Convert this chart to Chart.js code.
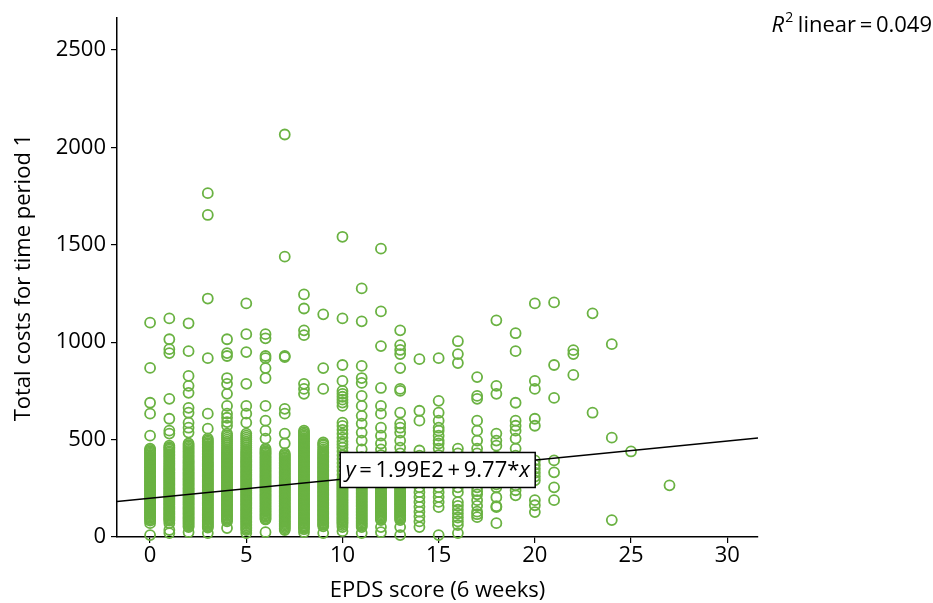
<!DOCTYPE html>
<html>
<head>
<meta charset="utf-8">
<script src="https://cdn.jsdelivr.net/npm/chart.js@4.4.1/dist/chart.umd.min.js"></script>
<style>
  html, body { margin: 0; padding: 0; background: #fff; }
  #wrap { width: 933px; height: 603px; position: relative; }
</style>
</head>
<body>
<div id="wrap"><canvas id="scatterChart"></canvas></div>
<script>
// EPDS score values that have observations
const epdsScores = [0, 1, 2, 3, 4, 5, 6, 7, 8, 9, 10, 11, 12, 13, 14, 15, 16, 17, 18, 19, 20, 21, 22, 23, 24, 25, 27];

// total costs (time period 1) read per EPDS score column
const costsAt0 = [1100, 868, 689, 633, 520, 454, 447, 441, 434, 428, 421, 414, 408, 401, 395, 388, 381, 375, 368, 362, 355, 348, 342, 335, 329, 322, 315, 309, 302, 296, 289, 282, 276, 269, 263, 256, 249, 243, 236, 230, 223, 216, 210, 203, 197, 190, 183, 177, 170, 164, 157, 150, 144, 137, 131, 124, 117, 111, 104, 98, 91, 84, 71, 10];
const costsAt1 = [1122, 1015, 964, 944, 709, 607, 546, 531, 469, 461, 455, 448, 440, 433, 425, 418, 410, 403, 395, 388, 380, 373, 366, 359, 352, 346, 340, 333, 327, 321, 315, 308, 302, 296, 290, 283, 277, 271, 265, 258, 252, 246, 240, 233, 227, 221, 215, 208, 202, 196, 190, 183, 177, 171, 165, 158, 152, 146, 140, 133, 127, 121, 115, 108, 102, 96, 90, 84, 71, 36, 20];
const costsAt2 = [1097, 954, 827, 776, 740, 663, 638, 587, 561, 536, 480, 472, 465, 457, 450, 442, 435, 427, 420, 412, 405, 397, 390, 384, 378, 371, 365, 358, 352, 346, 340, 333, 327, 321, 315, 308, 302, 296, 290, 283, 277, 271, 265, 258, 252, 246, 240, 233, 227, 221, 215, 208, 202, 196, 190, 183, 177, 171, 165, 158, 152, 146, 140, 133, 127, 121, 115, 108, 102, 96, 90, 83, 77, 70, 64, 57, 51, 25];
const costsAt3 = [1765, 1653, 1224, 918, 633, 556, 505, 497, 490, 482, 475, 467, 460, 452, 445, 437, 430, 422, 415, 407, 400, 392, 385, 378, 372, 366, 360, 353, 347, 341, 335, 328, 322, 316, 310, 303, 297, 291, 285, 278, 272, 266, 260, 253, 247, 241, 235, 228, 222, 216, 210, 203, 197, 191, 185, 178, 172, 166, 160, 153, 147, 141, 135, 128, 122, 116, 110, 103, 97, 91, 85, 78, 72, 66, 60, 54, 48, 20];
const costsAt4 = [1015, 944, 929, 816, 786, 735, 673, 633, 612, 590, 571, 531, 520, 510, 500, 490, 480, 470, 460, 450, 442, 434, 427, 420, 413, 406, 400, 393, 387, 380, 373, 367, 360, 354, 347, 341, 334, 328, 321, 315, 308, 302, 295, 289, 282, 276, 269, 263, 256, 250, 243, 237, 230, 224, 217, 211, 204, 198, 191, 185, 178, 172, 165, 159, 152, 146, 139, 133, 126, 120, 113, 107, 100, 94, 87, 80, 46];
const costsAt5 = [1199, 1041, 949, 786, 673, 633, 587, 531, 520, 510, 500, 490, 480, 470, 460, 450, 442, 434, 427, 420, 412, 405, 398, 392, 386, 380, 373, 367, 360, 354, 347, 341, 334, 328, 321, 315, 308, 302, 295, 289, 282, 276, 269, 263, 256, 250, 243, 237, 230, 224, 217, 211, 204, 198, 191, 185, 178, 172, 165, 159, 152, 146, 139, 133, 126, 120, 113, 107, 100, 94, 87, 80, 73, 66, 58, 50, 42, 35, 20];
const costsAt6 = [1041, 1020, 929, 918, 867, 816, 673, 597, 546, 505, 454, 447, 440, 434, 429, 422, 415, 408, 402, 395, 389, 382, 376, 369, 363, 356, 350, 343, 337, 330, 324, 317, 311, 304, 298, 291, 285, 278, 272, 265, 259, 252, 246, 239, 233, 226, 220, 213, 207, 200, 194, 187, 181, 174, 168, 161, 155, 148, 142, 135, 129, 122, 116, 109, 103, 96, 90, 25];
const costsAt7 = [2066, 1439, 929, 924, 658, 633, 531, 480, 429, 422, 416, 409, 403, 396, 390, 383, 377, 370, 364, 357, 351, 344, 338, 331, 325, 318, 312, 305, 299, 292, 286, 279, 273, 266, 260, 253, 247, 240, 234, 227, 221, 214, 208, 201, 195, 188, 182, 175, 169, 162, 156, 149, 143, 136, 130, 123, 117, 110, 104, 97, 91, 84, 78, 71, 65, 58, 51, 44, 36];
const costsAt8 = [1245, 1173, 1061, 1036, 786, 760, 735, 546, 538, 530, 522, 515, 507, 500, 492, 485, 477, 470, 463, 457, 450, 444, 437, 431, 424, 418, 411, 405, 398, 392, 385, 379, 372, 366, 359, 353, 346, 340, 333, 327, 320, 314, 307, 301, 294, 288, 281, 275, 268, 262, 255, 249, 242, 236, 229, 223, 216, 210, 203, 197, 190, 184, 177, 171, 164, 158, 151, 145, 138, 132, 125, 119, 112, 106, 99, 93, 86, 80, 73, 67, 60, 54, 47, 40, 25];
const costsAt9 = [1143, 867, 760, 485, 477, 470, 460, 450, 442, 434, 427, 420, 413, 407, 400, 394, 387, 381, 374, 368, 361, 355, 348, 342, 335, 329, 322, 316, 309, 303, 296, 290, 283, 277, 270, 264, 257, 251, 244, 238, 231, 225, 218, 212, 205, 199, 192, 186, 179, 173, 166, 160, 153, 147, 140, 134, 127, 121, 114, 108, 101, 95, 88, 82, 75, 69, 62, 55, 20];
const costsAt10 = [1541, 1122, 883, 801, 750, 735, 720, 705, 690, 673, 587, 570, 550, 530, 510, 490, 475, 459, 440, 420, 400, 380, 360, 340, 320, 300, 291, 284, 278, 271, 265, 258, 252, 245, 239, 232, 226, 219, 213, 206, 200, 193, 187, 180, 174, 167, 161, 154, 148, 141, 135, 128, 122, 115, 109, 102, 96, 89, 83, 76, 70, 61, 51, 30];
const costsAt11 = [1276, 1107, 878, 816, 791, 724, 673, 622, 582, 536, 495, 450, 410, 370, 330, 306, 298, 290, 283, 276, 268, 260, 252, 245, 237, 230, 222, 215, 207, 200, 192, 185, 177, 170, 162, 155, 147, 140, 132, 125, 117, 110, 102, 95, 87, 80, 72, 65, 58, 51, 20];
const costsAt12 = [1480, 1158, 980, 765, 673, 633, 561, 520, 480, 450, 420, 390, 360, 330, 306, 298, 291, 284, 277, 270, 263, 256, 249, 242, 235, 228, 221, 214, 207, 200, 193, 186, 179, 172, 165, 158, 151, 144, 137, 130, 123, 116, 109, 102, 95, 87, 51, 25];
const costsAt13 = [1061, 985, 960, 939, 867, 760, 750, 638, 582, 561, 536, 495, 459, 429, 400, 360, 320, 291, 284, 277, 270, 263, 256, 249, 242, 235, 228, 221, 214, 207, 200, 193, 186, 179, 172, 165, 158, 151, 144, 137, 130, 123, 116, 109, 102, 95, 87, 51, 10];
const costsAt14 = [913, 648, 597, 444, 418, 400, 370, 340, 310, 280, 255, 230, 205, 180, 155, 130, 105, 80, 51];
const costsAt15 = [918, 699, 638, 597, 561, 546, 520, 495, 480, 454, 420, 380, 340, 300, 255, 230, 205, 180, 153, 10];
const costsAt16 = [1005, 939, 893, 454, 429, 400, 360, 320, 255, 230, 179, 160, 140, 120, 100, 80, 61, 20];
const costsAt17 = [821, 724, 709, 597, 546, 495, 454, 429, 400, 378, 340, 321, 291, 255, 235, 219, 189, 160, 130, 117, 102];
const costsAt18 = [1112, 776, 735, 531, 495, 469, 413, 380, 362, 301, 270, 255, 204, 158, 153, 71];
const costsAt19 = [1046, 954, 689, 597, 571, 546, 505, 454, 418, 383, 367, 332, 301, 280, 265, 240, 214];
const costsAt20 = [1199, 801, 760, 607, 571, 393, 370, 350, 330, 310, 291, 189, 163, 128];
const costsAt21 = [1204, 883, 714, 393, 332, 255, 189];
const costsAt22 = [959, 939, 832];
const costsAt23 = [1148, 638];
const costsAt24 = [990, 510, 87];
const costsAt25 = [439];
const costsAt27 = [265];

const costColumns = [costsAt0, costsAt1, costsAt2, costsAt3, costsAt4, costsAt5, costsAt6, costsAt7, costsAt8,
  costsAt9, costsAt10, costsAt11, costsAt12, costsAt13, costsAt14, costsAt15, costsAt16, costsAt17, costsAt18,
  costsAt19, costsAt20, costsAt21, costsAt22, costsAt23, costsAt24, costsAt25, costsAt27];

// fit line end points, as drawn across the axis range
const fitLineX = [-1.72, 31.6];
const fitLineY = [182, 508];

const xTicks = [0, 5, 10, 15, 20, 25, 30];
const yTicks = [0, 500, 1000, 1500, 2000, 2500];

const fitLabel = 'y\u2009=\u20091.99E2\u2009+\u20099.77*x';
const r2Label = '0.049';

const FONT = '"Open Sans", "Noto Sans", sans-serif';
const GREEN = 'rgb(106,178,66)';

const scatterPoints = [];
epdsScores.forEach((score, i) => {
  costColumns[i].forEach(cost => scatterPoints.push({ x: score, y: cost }));
});
const fitPoints = fitLineX.map((x, i) => ({ x, y: fitLineY[i] }));

/**
 * 方程标签和 R² 文字
 */
const annotationPlugin = {
  id: 'annotations',
  afterDatasetsDraw(chart) {
    const ctx = chart.ctx;
    const xs = chart.scales.x;
    const ys = chart.scales.y;

    // equation box centred on the fit line
    const cx = xs.getPixelForValue(14.95);
    const cy = ys.getPixelForValue(344);
    const size = 22;
    ctx.save();
    const w = 195, h = 35;
    ctx.fillStyle = '#fff';
    ctx.fillRect(cx - w / 2, cy - h / 2, w, h);
    ctx.strokeStyle = '#000';
    ctx.lineWidth = 1.5;
    ctx.strokeRect(cx - w / 2, cy - h / 2, w, h);

    // italic y and x, plain for the rest
    const parts = [
      { t: 'y', i: true }, { t: fitLabel.slice(1, -1), i: false }, { t: 'x', i: true }
    ];
    let total = 0;
    parts.forEach(p => {
      ctx.font = `${p.i ? 'italic ' : ''}${size}px ${FONT}`;
      p.w = ctx.measureText(p.t).width;
      total += p.w;
    });
    let px = cx - total / 2;
    ctx.fillStyle = '#000';
    ctx.textBaseline = 'middle';
    parts.forEach(p => {
      ctx.font = `${p.i ? 'italic ' : ''}${size}px ${FONT}`;
      ctx.fillText(p.t, px, cy + 1);
      px += p.w;
    });
    ctx.restore();
  },
  afterDraw(chart) {
    const ctx = chart.ctx;
    ctx.save();
    ctx.fillStyle = '#000';
    ctx.textBaseline = 'alphabetic';
    const right = chart.width - 1;
    const base = 32;
    ctx.font = `22px ${FONT}`;
    const rest = ' linear\u2009=\u2009' + r2Label;
    const restW = ctx.measureText(rest).width;
    ctx.font = `14px ${FONT}`;
    const supW = ctx.measureText('2').width;
    ctx.font = `italic 22px ${FONT}`;
    const rW = ctx.measureText('R').width;
    let x = right - restW - supW - rW;
    ctx.fillText('R', x, base);
    x += rW + 1;
    ctx.font = `14px ${FONT}`;
    ctx.fillText('2', x, base - 10);
    x += supW - 1;
    ctx.font = `22px ${FONT}`;
    ctx.fillText(rest, x, base);
    ctx.restore();
  }
};

const ctx = document.getElementById('scatterChart').getContext('2d');
new Chart(ctx, {
  type: 'scatter',
  data: {
    datasets: [
      {
        type: 'line',
        label: 'fit',
        data: fitPoints,
        borderColor: '#000',
        borderWidth: 1.6,
        pointRadius: 0,
        fill: false,
        order: 0
      },
      {
        label: 'costs',
        data: scatterPoints,
        pointStyle: 'circle',
        pointRadius: 5,
        pointBorderWidth: 1.8,
        pointBorderColor: GREEN,
        pointBackgroundColor: 'rgba(0,0,0,0)',
        clip: false,
        order: 1
      }
    ]
  },
  options: {
    responsive: true,
    maintainAspectRatio: false,
    animation: false,
    layout: { padding: { top: 15, right: 175, left: 0, bottom: 0 } },
    plugins: {
      legend: { display: false },
      tooltip: { enabled: false }
    },
    scales: {
      x: {
        type: 'linear',
        min: -1.72,
        max: 31.6,
        afterBuildTicks: s => { s.ticks = xTicks.map(v => ({ value: v })); },
        afterFit: s => { s.height = 66; },
        grid: { drawOnChartArea: false, drawTicks: true, tickLength: 6, color: '#000', lineWidth: 1.2 },
        border: { display: true, color: '#000', width: 1.5 },
        ticks: { color: '#000', padding: 1, font: { family: FONT, size: 22, lineHeight: 1.1 }, callback: v => String(v) },
        title: { display: true, text: 'EPDS score (6 weeks)', color: '#000', font: { family: FONT, size: 22, lineHeight: 1 }, padding: { top: 0, bottom: 1 } }
      },
      y: {
        min: 0,
        max: 2663,
        afterBuildTicks: s => { s.ticks = yTicks.map(v => ({ value: v })); },
        afterFit: s => { s.width = 117; },
        grid: { drawOnChartArea: false, drawTicks: true, tickLength: 6, color: '#000', lineWidth: 1.2 },
        border: { display: true, color: '#000', width: 1.5 },
        ticks: { color: '#000', padding: 5, font: { family: FONT, size: 22 }, callback: v => String(v) },
        title: { display: true, text: 'Total costs for time period 1', color: '#000', font: { family: FONT, size: 22, lineHeight: 1 }, padding: { top: 13, bottom: 0 } }
      }
    }
  },
  plugins: [annotationPlugin]
});
</script>
</body>
</html>
